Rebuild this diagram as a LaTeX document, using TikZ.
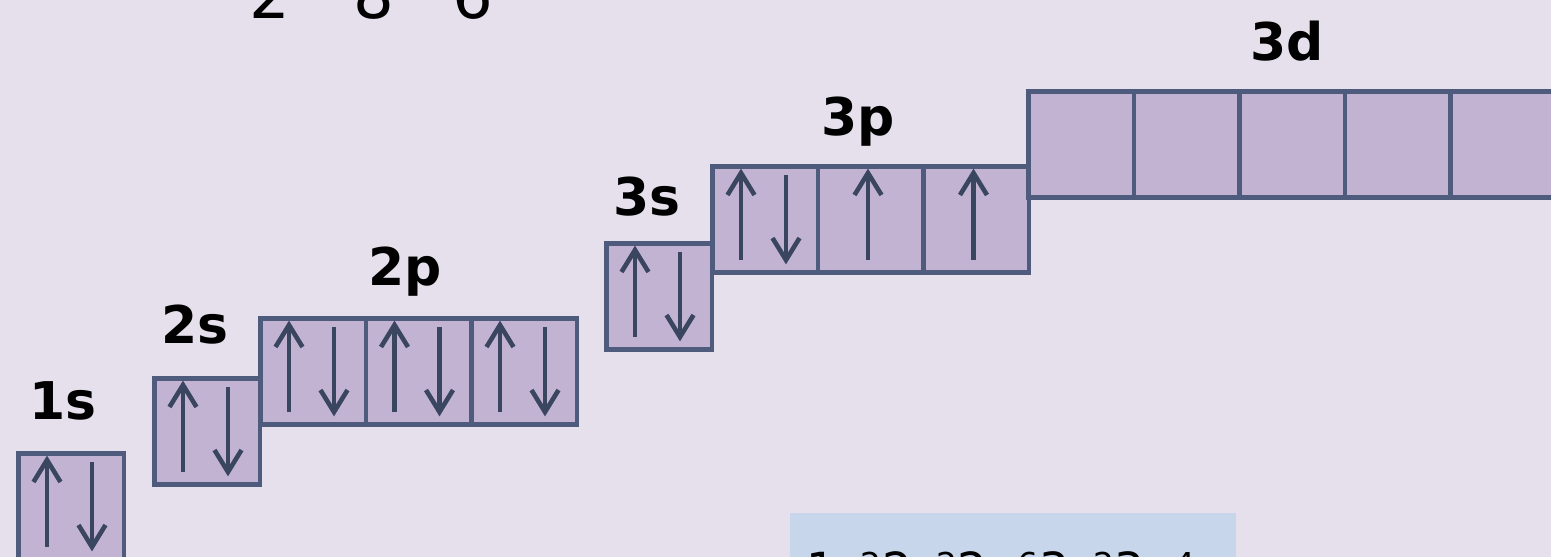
\documentclass[tikz,border=0pt]{standalone}
\usepackage{fontspec}
\setmainfont{DejaVu Sans}
\usetikzlibrary{calc}
\definecolor{bg}{HTML}{E5E0EC}
\definecolor{orbfill}{HTML}{C2B3D2}
\definecolor{orbline}{HTML}{4E5B7D}
\definecolor{spincol}{HTML}{3A4560}
\definecolor{cfgfill}{HTML}{C8D6EC}
\newcommand{\SpinUp}[2]{%
  \draw[spin] ($(#1)+(#2,96)$) -- ($(#1)+(#2,9)$);
  \draw[spin] ($(#1)+(#2-13.5,31)$) -- ($(#1)+(#2,9)$) -- ($(#1)+(#2+13.5,31)$);}
\newcommand{\SpinDown}[2]{%
  \draw[spin] ($(#1)+(#2,11)$) -- ($(#1)+(#2,96)$);
  \draw[spin] ($(#1)+(#2-13.5,74)$) -- ($(#1)+(#2,96)$) -- ($(#1)+(#2+13.5,74)$);}
\begin{document}
\begin{tikzpicture}[x=1pt,y=-1pt,
  orb/.style={draw=orbline,fill=orbfill,line width=4.5pt,minimum width=105.5pt,minimum height=106pt,inner sep=0pt,anchor=north west},
  spin/.style={draw=spincol,line width=4.6pt,line cap=butt,line join=miter},
  lbl/.style={inner sep=0pt,anchor=base,font=\fontsize{52}{52}\selectfont\bfseries},
  topnum/.style={inner sep=0pt,anchor=base,font=\fontsize{64}{64}\selectfont}]
\useasboundingbox (0,0) rectangle (1551,557);
\clip (0,0) rectangle (1551,557);
\fill[bg] (0,0) rectangle (1551,557);
% top numbers
\node[topnum] (n2) at (270,18) {2};
\node[topnum] (n8) at (374,18) {8};
\node[topnum] (n6) at (473,18) {6};
% configuration box
\fill[cfgfill] (790,513) rectangle (1236,600);
\node[inner sep=0pt,anchor=base west,font=\fontsize{47}{47}\selectfont] (cfg) at (806,586)
  {1s\textsuperscript{2}2s\textsuperscript{2}2p\textsuperscript{6}3s\textsuperscript{2}3p\textsuperscript{4}};
% orbitals
\node[orb] (s1) at (16,451) {};
\node[orb] (s2) at (152,376) {};
\node[orb] (p2a) at (258,316) {};
\node[orb] (p2b) at (363.5,316) {};
\node[orb] (p2c) at (469,316) {};
\node[orb] (s3) at (604,241) {};
\node[orb] (p3a) at (710,164) {};
\node[orb] (p3b) at (815.5,164) {};
\node[orb] (p3c) at (921,164) {};
\node[orb] (d3a) at (1026,89) {};
\node[orb] (d3b) at (1131.5,89) {};
\node[orb] (d3c) at (1237,89) {};
\node[orb] (d3d) at (1342.5,89) {};
\node[orb] (d3e) at (1448,89) {};
% labels
\node[lbl] (l1s) at (63,419) {1s};
\node[lbl] (l2s) at (195,343) {2s};
\node[lbl] (l2p) at (405,285) {2p};
\node[lbl] (l3s) at (647,215) {3s};
\node[lbl] (l3p) at (858,135) {3p};
\node[lbl] (l3d) at (1287,60) {3d};
% spins
\foreach \o in {s1,s2,p2a,p2b,p2c,s3,p3a}{
  \SpinUp{\o.north west}{31}
  \SpinDown{\o.north west}{76}
}
\SpinUp{p3b.north west}{52.5}
\SpinUp{p3c.north west}{52.5}
\end{tikzpicture}
\end{document}
